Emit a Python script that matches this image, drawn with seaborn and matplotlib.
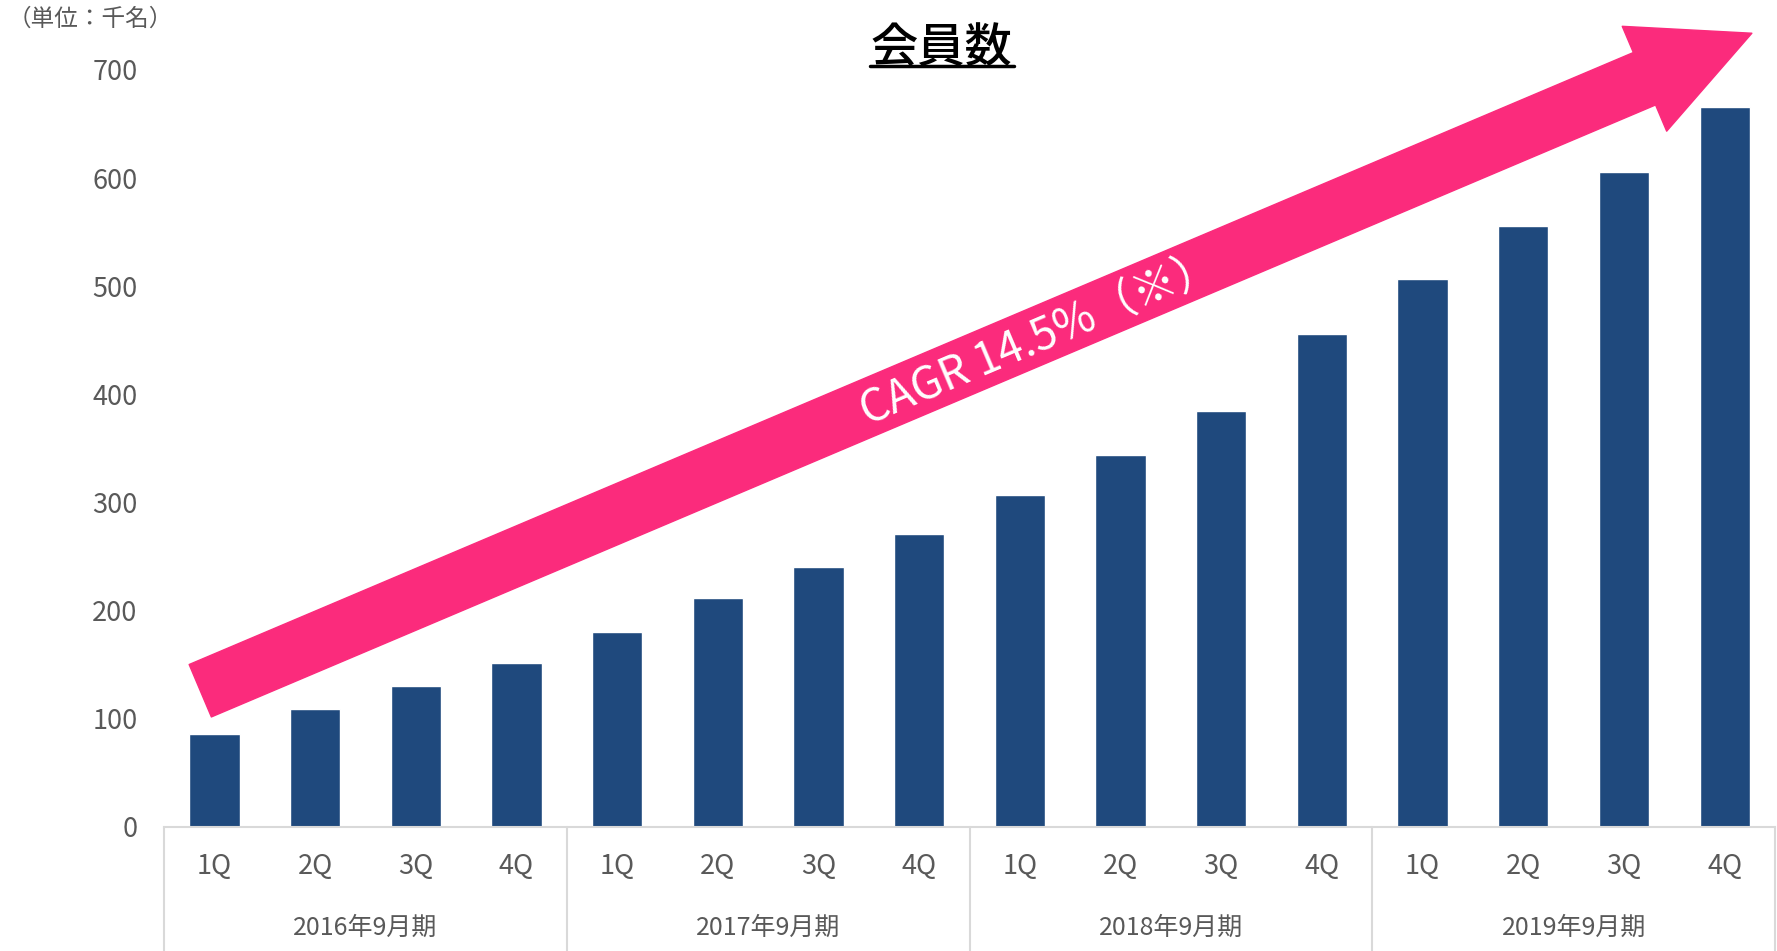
import numpy as np
import pandas as pd
import seaborn as sns
import matplotlib.pyplot as plt
from matplotlib.lines import Line2D
import matplotlib.transforms as mtransforms

# Data
years = ['2016年9月期', '2017年9月期', '2018年9月期', '2019年9月期']
quarters = ['1Q', '2Q', '3Q', '4Q']
members = [86, 109, 130, 152,
           180, 212, 240, 271,
           307, 344, 385, 456,
           507, 556, 606, 666]
yticks = [0, 100, 200, 300, 400, 500, 600, 700]

bar_color = '#1F497D'
arrow_color = '#FB2B7C'
text_gray = '#595959'
line_gray = '#D9D9D9'

sns.set_style('white')
plt.rcParams['font.family'] = ['Noto Sans CJK JP', 'DejaVu Sans']

keys = [f'{y}-{q}' for y in years for q in quarters]
df = pd.DataFrame({'key': keys, 'members': members})

fig = plt.figure(figsize=(17.77, 9.51), dpi=100)
ax = fig.add_axes([0.0923, 0.1304, 0.9066, 0.796])

sns.barplot(data=df, x='key', y='members', order=keys, color=bar_color,
            saturation=1, width=0.5, ax=ax)

ax.set_xlim(-0.5, len(keys) - 0.5)
ax.set_ylim(0, 700)
ax.set_yticks(yticks)
ax.set_yticklabels([str(t) for t in yticks], fontsize=19.5, color=text_gray)
ax.set_xticks(range(len(keys)))
ax.set_xticklabels(quarters * len(years), fontsize=19.5, color=text_gray)
ax.tick_params(axis='y', length=0, pad=19)
ax.tick_params(axis='x', length=0, pad=19)
ax.set_xlabel('')
ax.set_ylabel('')
for s in ['top', 'right', 'left']:
    ax.spines[s].set_visible(False)
ax.spines['bottom'].set_color(line_gray)
ax.spines['bottom'].set_linewidth(1.5)

# year group labels and separators
trans = mtransforms.blended_transform_factory(ax.transData, ax.transAxes)
bottom_y = -124 / 757
for i, y in enumerate(years):
    ax.text(i * 4 + 1.5, -101 / 757, y, transform=trans, ha='center',
            va='center', fontsize=18, color=text_gray)
for b in range(len(years) + 1):
    xb = b * 4 - 0.5
    ax.add_line(Line2D([xb, xb], [0, bottom_y], transform=trans,
                       color=line_gray, lw=1.5, clip_on=False))

# CAGR arrow
ax.annotate('', xy=(15.27, 734), xytext=(-0.14, 126),
            arrowprops=dict(arrowstyle='simple,head_length=84,head_width=82,tail_width=41',
                            color=arrow_color, shrinkA=0, shrinkB=0,
                            mutation_scale=1),
            annotation_clip=False)
ax.text(8.2, 452, 'CAGR 14.5%（※）', rotation=23, rotation_mode='anchor',
        ha='center', va='center', color='white', fontsize=32)

# title + unit
fig.text(0.5295, 0.949, '会員数', ha='center', va='center', fontsize=34,
         fontweight='medium', color='black')
fig.add_artist(Line2D([0.4896, 0.5706], [0.9306, 0.9306], color='black',
                      lw=2.5, transform=fig.transFigure))
fig.text(0.004, 0.98, '（単位：千名）', ha='left', va='center', fontsize=17,
         color=text_gray)

fig.savefig('out.png', dpi=100)
